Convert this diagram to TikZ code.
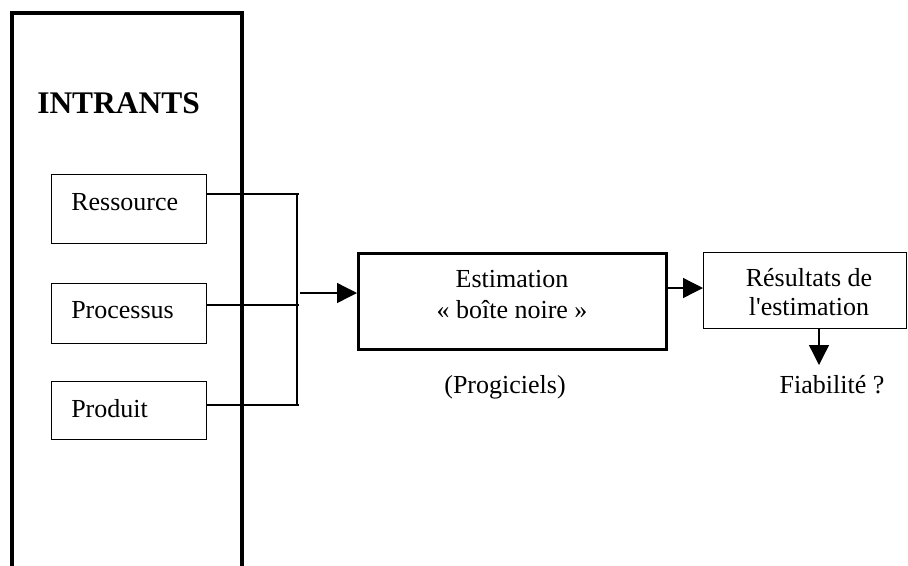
\documentclass[tikz,border=0pt]{standalone}
\usepackage{fontspec}
\setmainfont{Liberation Serif}
\usetikzlibrary{arrows.meta}
\begin{document}
\begin{tikzpicture}[x=0.75pt,y=-0.75pt,
  thinbox/.style={draw,line width=1pt,inner sep=0pt,anchor=north west},
  thickbox/.style={draw,line width=2.4pt,inner sep=0pt,anchor=north west},
  txt/.style={inner sep=0pt,anchor=base,font=\fontsize{19.5pt}{22pt}\selectfont},
  ltxt/.style={txt,anchor=base west},
  wire/.style={line width=1pt},
  arr/.style={wire,-{Triangle[length=15pt,width=15pt]}}]
\useasboundingbox (0,0) rectangle (908,565);

% open-bottomed frame of the inputs
\coordinate (fbl) at (12,566);
\coordinate (ftl) at (12,13);
\coordinate (ftr) at (242,13);
\coordinate (fbr) at (242,566);
\draw[line width=2.4pt] (fbl) -- (ftl) -- (ftr) -- (fbr);
\node[inner sep=0pt,anchor=base west,font=\fontsize{23.6pt}{26pt}\selectfont\bfseries] (intr) at (37,113) {INTRANTS};

% input boxes (sizes in pt: 1 unit = 0.75pt)
\node[thinbox,minimum width=116.25pt,minimum height=51.75pt] (res) at (50.5,174) {};
\node[ltxt] (restxt) at (71,210) {Ressource};
\node[thinbox,minimum width=116.25pt,minimum height=45pt] (pro) at (50.5,283) {};
\node[ltxt] (protxt) at (71,318) {Processus};
\node[thinbox,minimum width=116.25pt,minimum height=43.5pt] (prd) at (50.5,381) {};
\node[ltxt] (prdtxt) at (71,417) {Produit};

% collecting bracket
\coordinate (j1) at (299,194);
\coordinate (j2) at (299,305);
\coordinate (j3) at (299,405);
\coordinate (b1) at (297,194);
\coordinate (b3) at (297,405);
\coordinate (jo) at (300,293);
\draw[wire] (res.east |- j1) -- (j1);
\draw[wire] (pro.east |- j2) -- (j2);
\draw[wire] (prd.east |- j3) -- (j3);
\draw[wire] (b1) -- (b3);

% estimation box
\node[thickbox,minimum width=231pt,minimum height=72pt] (est) at (357,252) {};
\node[txt] (esttxt1) at (512,287) {Estimation};
\node[txt] (esttxt2) at (512,318) {« boîte noire »};
\node[txt] (prog) at (505,393) {(Progiciels)};
\draw[arr] (jo) -- (est.west |- jo);

% results box
\node[thinbox,minimum width=152.25pt,minimum height=57pt] (resu) at (703,252) {};
\node[txt] (resutxt1) at (809,286) {Résultats de};
\node[txt] (resutxt2) at (809,315) {l\textquotesingle estimation};
\coordinate (eo) at (665,288);
\draw[arr] (est.east |- eo) -- (resu.west |- eo);

% reliability
\node[txt] (fiab) at (832,393) {Fiabilité ?};
\coordinate (dn) at (819,365);
\draw[arr] (resu.south -| dn) -- (dn);
\end{tikzpicture}
\end{document}
